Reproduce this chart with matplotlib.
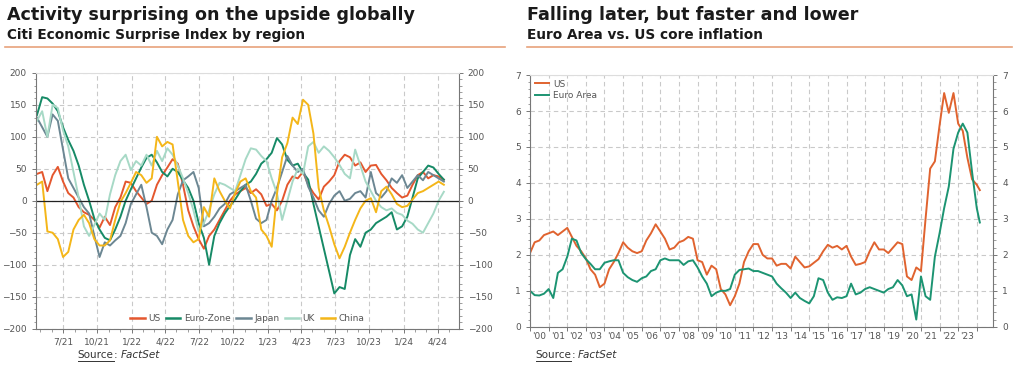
import matplotlib
matplotlib.use('Agg')
import matplotlib.pyplot as plt
import matplotlib.dates as mdates
from matplotlib.lines import Line2D
from matplotlib.ticker import MultipleLocator, FixedLocator, FixedFormatter, NullFormatter
import pandas as pd

plt.rcParams['font.family'] = ['DejaVu Sans']

# ---- left panel: Citi Economic Surprise Index (bi-weekly readings) ----
ces_dates = pd.date_range('2021-04-22', periods=79, freq='14D')
ces_us = [42, 45, 15, 40, 53, 30, 12, 5, -10, -18, -22, -30, -42, -25, -38, -10, 5, 30, 28, 15,
          5, -5, 0, 25, 40, 52, 65, 58, 25, -15, -40, -60, -75, -55, -45, -30, -15, 0, 10, 15,
          20, 12, 18, 10, -8, -5, -15, 0, 25, 38, 35, 45, 25, 12, 2, 22, 30, 40, 62, 72,
          68, 55, 60, 45, 55, 56, 42, 32, 20, 12, 5, 8, 25, 40, 45, 35, 40, 38, 33]
ces_euro = [134, 162, 160, 152, 140, 115, 95, 78, 55, 25, 0, -28, -45, -58, -62, -45, -25, 0, 18, 35,
            52, 67, 72, 60, 45, 38, 50, 45, 32, 20, 0, -35, -58, -100, -55, -35, -20, -8, 2, 15,
            25, 30, 42, 58, 65, 75, 98, 88, 64, 55, 58, 44, 33, -5, -40, -75, -110, -145, -135, -138,
            -85, -60, -72, -50, -45, -35, -30, -25, -18, -45, -40, -25, 5, 35, 45, 55, 52, 42, 33]
ces_japan = [130, 115, 100, 135, 125, 80, 35, 20, 5, -10, -20, -55, -88, -65, -70, -62, -55, -35, -5, 10,
             25, -10, -50, -55, -68, -45, -30, 10, 32, 38, 45, 20, -40, -35, -25, -12, -5, 10, 15, 20,
             25, 0, -28, -35, -30, 0, 20, 45, 70, 55, 45, 50, 22, 5, -15, -25, -5, 8, 15, 0,
             3, 12, 15, 5, 45, 12, 5, 15, 35, 28, 40, 20, 30, 40, 32, 45, 40, 35, 30]
ces_uk = [125, 140, 100, 150, 145, 110, 85, 45, 5, -40, -55, -38, -20, -30, 10, 40, 62, 72, 48, 62,
          55, 72, 55, 78, 62, 82, 72, 55, 35, 12, -15, -48, -35, -15, 10, 28, 25, 20, 15, 40,
          65, 82, 80, 70, 62, 35, 12, -30, 0, 30, 50, 42, 85, 92, 75, 85, 78, 68, 56, 42,
          35, 80, 55, 30, 15, 0, -10, -15, -12, -19, -22, -31, -36, -45, -50, -35, -20, 0, 14]
ces_china = [25, 30, -48, -50, -60, -88, -80, -45, -30, -22, -35, -60, -70, -70, -62, -30, -2, 12, 28, 45,
             40, 28, 35, 100, 85, 92, 88, 30, -30, -55, -65, -60, -10, -25, 35, 15, 0, -12, 12, 30,
             35, 15, 5, -45, -55, -72, 10, 68, 90, 130, 120, 158, 150, 105, 20, -15, -40, -68, -90, -72,
             -50, -30, -12, 0, 4, -18, 15, 22, 10, -5, -10, -8, 2, 12, 15, 20, 25, 30, 25]
ces_names = ['US', 'Euro-Zone', 'Japan', 'UK', 'China']
ces_ticklabels = ['7/21', '10/21', '1/22', '4/22', '7/22', '10/22', '1/23', '4/23',
                  '7/23', '10/23', '1/24', '4/24']

# ---- right panel: core inflation (quarterly) ----
cpi_dates = list(pd.date_range('2000-01-01', '2024-01-01', freq='QS')) + [pd.Timestamp('2024-03-01')]
cpi_us = [2.05, 2.35, 2.4, 2.55, 2.6, 2.65, 2.55, 2.65, 2.75, 2.5, 2.25, 2.1,
          1.9, 1.6, 1.45, 1.1, 1.2, 1.6, 1.8, 2.05, 2.35, 2.2, 2.1, 2.05,
          2.1, 2.4, 2.6, 2.85, 2.65, 2.45, 2.15, 2.2, 2.35, 2.4, 2.5, 2.45,
          1.85, 1.8, 1.45, 1.7, 1.6, 1.05, 0.9, 0.6, 0.85, 1.2, 1.8, 2.1,
          2.3, 2.3, 2.0, 1.9, 1.9, 1.7, 1.75, 1.75, 1.62, 1.95, 1.8, 1.65,
          1.68, 1.78, 1.88, 2.1, 2.28, 2.2, 2.25, 2.15, 2.25, 1.95, 1.72, 1.75,
          1.8, 2.1, 2.35, 2.15, 2.15, 2.05, 2.2, 2.35, 2.3, 1.4, 1.3, 1.65,
          1.55, 3.0, 4.4, 4.6, 5.6, 6.5, 5.95, 6.5, 5.65, 5.45, 4.7, 4.1,
          3.95, 3.8]
cpi_euro = [1.0, 0.88, 0.87, 0.92, 1.05, 0.8, 1.5, 1.6, 1.95, 2.45, 2.4, 2.05,
            1.88, 1.75, 1.6, 1.6, 1.78, 1.82, 1.85, 1.85, 1.5, 1.38, 1.3, 1.25,
            1.35, 1.4, 1.55, 1.6, 1.85, 1.9, 1.85, 1.85, 1.85, 1.72, 1.82, 1.85,
            1.65, 1.4, 1.2, 0.85, 0.95, 1.0, 1.0, 1.05, 1.45, 1.58, 1.6, 1.62,
            1.55, 1.55, 1.5, 1.45, 1.4, 1.2, 1.07, 0.95, 0.8, 0.95, 0.8, 0.72,
            0.65, 0.85, 1.35, 1.3, 0.95, 0.75, 0.82, 0.8, 0.85, 1.2, 0.9, 0.95,
            1.05, 1.1, 1.05, 1.0, 0.95, 1.05, 1.1, 1.3, 1.15, 0.85, 0.9, 0.2,
            1.4, 0.85, 0.75, 1.95, 2.6, 3.3, 3.9, 4.95, 5.4, 5.65, 5.4, 4.3,
            3.3, 2.9]
cpi_names = ['US', 'Euro Area']
cpi_years = list(range(2000, 2024))

ces_colors = ['#e4572e', '#168a66', '#6c8793', '#a7d9c6', '#f4b619']
cpi_colors = ['#e0632f', '#1c9472']
GRID = '#c9c9c9'
TICK = '#555555'
RULE = '#e8a27c'

fig = plt.figure(figsize=(10.24, 3.68), dpi=100)


def style_axis(ax):
    ax.grid(True, color=GRID, linestyle=(0, (4, 3)), linewidth=0.8)
    ax.set_axisbelow(True)
    for side in ['left', 'right', 'bottom']:
        ax.spines[side].set_color('#777777')
        ax.spines[side].set_linewidth(0.8)
    ax.spines['top'].set_color('#dddddd')
    ax.tick_params(axis='both', which='both', colors='#777777', labelcolor=TICK,
                   labelsize=6.5, direction='out')
    ax.tick_params(axis='y', which='both', left=True, right=True, labelleft=True, labelright=True)
    ax.tick_params(axis='both', which='major', length=3, width=0.7)
    ax.tick_params(axis='both', which='minor', length=1.8, width=0.5)


# left chart
ax1 = fig.add_axes([0.035, 0.107, 0.413, 0.695])
for vals, name, col in zip([ces_us, ces_euro, ces_japan, ces_uk, ces_china], ces_names, ces_colors):
    ax1.plot(ces_dates, vals, color=col, lw=1.4, label=name)
ax1.axhline(0, color='#222222', lw=0.9)
ax1.set_ylim(-200, 200)
ax1.set_xlim(pd.Timestamp('2021-04-19'), pd.Timestamp('2024-05-28'))
tick_dates = [pd.Timestamp(2000 + int(l.split('/')[1]), int(l.split('/')[0]), 1) for l in ces_ticklabels]
ax1.xaxis.set_major_locator(FixedLocator(mdates.date2num(tick_dates)))
ax1.set_xticklabels(ces_ticklabels)
ax1.xaxis.set_minor_locator(mdates.MonthLocator())
ax1.yaxis.set_major_locator(MultipleLocator(50))
ax1.yaxis.set_minor_locator(MultipleLocator(10))
style_axis(ax1)
ax1.legend(loc='lower center', ncol=5, frameon=False, fontsize=6.5, handlelength=1.6,
           columnspacing=0.6, handletextpad=0.4, borderaxespad=0.2,
           labelcolor=TICK)
for line in ax1.get_legend().get_lines():
    line.set_linewidth(1.8)

# right chart
ax2 = fig.add_axes([0.5176, 0.112, 0.4524, 0.684])
for vals, name, col in zip([cpi_us, cpi_euro], cpi_names, cpi_colors):
    ax2.plot(cpi_dates, vals, color=col, lw=1.4, label=name)
ax2.set_ylim(0, 7)
ax2.set_xlim(pd.Timestamp('2000-01-01'), pd.Timestamp('2024-11-20'))
ax2.xaxis.set_major_locator(mdates.YearLocator())
ax2.xaxis.set_major_formatter(NullFormatter())
mid_years = [pd.Timestamp(y, 7, 1) for y in cpi_years]
ax2.xaxis.set_minor_locator(FixedLocator(mdates.date2num(mid_years)))
ax2.xaxis.set_minor_formatter(FixedFormatter(["'%02d" % (y % 100) for y in cpi_years]))
ax2.yaxis.set_major_locator(MultipleLocator(1))
ax2.yaxis.set_minor_locator(MultipleLocator(0.2))
style_axis(ax2)
ax2.tick_params(axis='x', which='minor', length=0, labelsize=6.5, labelcolor=TICK)
ax2.legend(loc='upper left', frameon=False, fontsize=6.5, handlelength=1.6,
           handletextpad=0.5, labelspacing=0.3, borderaxespad=0.1, labelcolor=TICK)

# titles
fig.text(0.007, 0.945, 'Activity surprising on the upside globally', fontsize=12.6,
         fontweight='bold', color='#1a1a1a')
fig.text(0.007, 0.893, 'Citi Economic Surprise Index by region', fontsize=9.8,
         fontweight='bold', color='#1a1a1a')
fig.text(0.515, 0.945, 'Falling later, but faster and lower', fontsize=12.6,
         fontweight='bold', color='#1a1a1a')
fig.text(0.515, 0.893, 'Euro Area vs. US core inflation', fontsize=9.8,
         fontweight='bold', color='#1a1a1a')
fig.add_artist(Line2D([0.005, 0.493], [0.873, 0.873], color=RULE, lw=1.2))
fig.add_artist(Line2D([0.515, 0.988], [0.873, 0.873], color=RULE, lw=1.2))

# source notes
fig.canvas.draw()
renderer = fig.canvas.get_renderer()
W, H = fig.bbox.width, fig.bbox.height
for x0 in [0.076, 0.523]:
    t1 = fig.text(x0, 0.027, 'Source', fontsize=7.5, color='#333333')
    bb = t1.get_window_extent(renderer)
    fig.add_artist(Line2D([bb.x0 / W, bb.x1 / W], [(bb.y0 - 1) / H] * 2, color='#333333', lw=0.7))
    t2 = fig.text(bb.x1 / W, 0.027, ':', fontsize=7.5, color='#333333')
    bb2 = t2.get_window_extent(renderer)
    fig.text(bb2.x1 / W + 3 / W, 0.027, 'FactSet', fontsize=7.5, color='#333333', style='italic')

fig.savefig('out.png', dpi=100, facecolor='white')
